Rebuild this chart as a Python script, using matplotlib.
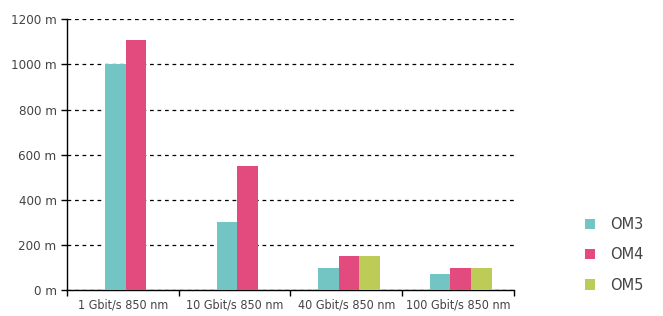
import matplotlib
matplotlib.use("Agg")
import matplotlib.pyplot as plt
import numpy as np

plt.rcParams['font.family'] = ['DejaVu Sans']
plt.rcParams['font.stretch'] = 'condensed'

categories = ["1 Gbit/s 850 nm", "10 Gbit/s 850 nm", "40 Gbit/s 850 nm", "100 Gbit/s 850 nm"]
series_names = ["OM3", "OM4", "OM5"]
om3 = [1000, 300, 100, 70]
om4 = [1110, 550, 150, 100]
om5 = [None, None, 150, 100]
colors = ["#72c5c3", "#e34a7e", "#bdcc56"]

fig = plt.figure(figsize=(6.63, 3.16), dpi=100)
ax = fig.add_axes([0.101, 0.082, 0.674, 0.857])

width = 0.185
series = [om3, om4, om5]
for i in range(len(categories)):
    present = [k for k in range(3) if series[k][i] is not None]
    n = len(present)
    for j, k in enumerate(present):
        x = i + 0.025 + (j - (n - 1) / 2) * width
        ax.bar(x, series[k][i], width=width, color=colors[k], zorder=3)

# legend proxies
for k in range(3):
    ax.bar(0, 0, color=colors[k], label=series_names[k])

ax.set_xlim(-0.5, len(categories) - 0.5)
ax.set_ylim(0, 1200)
ax.set_yticks(np.arange(0, 1201, 200))
ax.set_yticklabels([f"{v} m" for v in range(0, 1201, 200)])
ax.set_xticks(np.arange(len(categories)))
ax.set_xticklabels(categories)
ax.set_xticks(np.arange(-0.5, len(categories)), minor=True)
ax.tick_params(axis='x', which='major', length=0, pad=6, labelsize=9, labelcolor='#444444')
ax.tick_params(axis='x', which='minor', length=4, width=1, direction='out')
ax.tick_params(axis='y', length=4, width=1, labelsize=9.5, labelcolor='#444444')

ax.yaxis.grid(True, linestyle=(0, (3, 3)), color='black', linewidth=0.9)
ax.set_axisbelow(True)
for s in ['top', 'right']:
    ax.spines[s].set_visible(False)
ax.spines['left'].set_linewidth(1)
ax.spines['bottom'].set_linewidth(1)

ax.legend(loc='center left', bbox_to_anchor=(1.13, 0.13), frameon=False,
          prop={'size': 10.5, 'stretch': 'normal'}, labelcolor='#444444',
          handlelength=0.7, handleheight=0.7, labelspacing=1.05, handletextpad=1.0)

plt.savefig("out.png", dpi=100)
plt.close()
